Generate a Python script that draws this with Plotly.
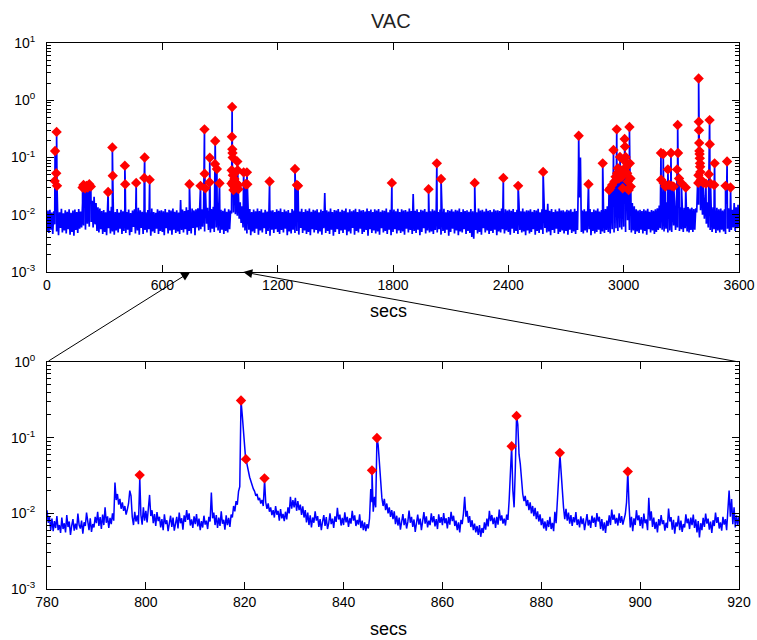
import numpy as np
import plotly.graph_objects as go

# ---------------- data ----------------
top_step_secs = 5
# VAC full-hour trace, sampled every 5 s, in units of 1e-3
top_vac_milli = [
    5.2, 11.8, 4.8, 12.2, 5.5, 10.9, 4.6, 11.5, 6.8, 14.0, 5.1, 12.4, 4.4, 11.0, 5.9, 12.7, 4.9, 10.6, 5.3, 12.0,
    4.7, 11.3, 5.6, 12.5, 4.5, 10.8, 5.0, 11.9, 4.3, 12.3, 5.4, 11.1, 4.8, 12.6, 5.7, 11.4, 6.0, 16.0, 6.5, 18.5,
    5.5, 21.0, 7.0, 19.0, 6.2, 24.0, 7.5, 17.5, 6.0, 20.5, 6.8, 16.0, 5.2, 13.5, 4.9, 12.8, 5.6, 11.6, 4.6, 12.1,
    5.0, 11.0, 4.4, 12.4, 5.8, 11.7, 4.7, 13.8, 5.1, 12.0, 4.5, 11.2, 5.3, 12.6, 4.9, 10.9, 5.7, 12.2, 4.6, 11.5,
    5.2, 12.8, 4.8, 11.1, 5.5, 12.3, 4.4, 10.7, 5.0, 11.8, 6.1, 12.5, 4.7, 11.6, 5.3, 13.2, 4.5, 12.0, 5.9, 11.3,
    4.6, 12.7, 5.4, 11.0, 4.9, 12.1, 5.6, 11.4, 4.3, 12.9, 5.1, 11.2, 4.8, 10.8, 5.7, 12.4, 4.6, 11.7, 5.2, 12.0,
    5.0, 11.5, 4.4, 12.6, 5.8, 11.0, 4.7, 12.2, 5.3, 11.8, 4.5, 12.9, 5.5, 11.3, 4.8, 12.0, 5.1, 10.9, 4.6, 18.0,
    5.4, 12.3, 4.9, 11.6, 5.6, 13.5, 4.5, 12.1, 5.2, 11.4, 4.7, 12.8, 5.9, 11.9, 4.4, 12.5, 6.0, 13.0, 5.3, 15.0,
    5.6, 12.4, 6.2, 14.0, 5.1, 18.0, 7.0, 13.2, 5.4, 12.0, 4.9, 12.6, 5.7, 13.8, 5.0, 14.5, 6.0, 17.0, 5.3, 12.8,
    4.8, 12.2, 5.5, 11.7, 4.6, 12.9, 5.2, 11.3, 4.9, 12.5, 5.6, 11.8, 10.5, 30.0, 11.0, 26.0, 10.2, 22.0, 9.6, 19.0,
    8.5, 16.5, 7.2, 14.0, 6.0, 13.5, 5.3, 12.4, 4.7, 11.9, 5.5, 12.6, 4.4, 11.2, 5.1, 12.3, 4.8, 11.5, 5.7, 12.8,
    4.5, 11.6, 5.3, 12.5, 4.9, 10.9, 5.8, 12.2, 4.6, 11.4, 5.2, 12.7, 4.3, 11.8, 5.5, 12.0, 4.8, 11.1, 5.6, 12.4,
    5.0, 11.7, 4.6, 12.8, 5.4, 11.2, 4.9, 12.3, 5.7, 11.5, 4.4, 12.1, 5.1, 10.8, 4.7, 12.6, 5.5, 11.9, 4.8, 13.5,
    5.2, 12.0, 4.5, 11.4, 5.9, 12.7, 4.8, 11.1, 5.3, 12.4, 4.6, 11.7, 5.0, 12.9, 4.4, 11.3, 5.6, 12.2, 4.9, 11.8,
    5.4, 12.5, 4.7, 11.0, 5.1, 12.3, 4.5, 11.6, 5.8, 24.0, 4.8, 12.0, 5.2, 11.4, 4.6, 12.8, 5.5, 11.2, 4.3, 12.1,
    5.0, 11.9, 5.6, 12.6, 4.6, 11.3, 5.3, 12.2, 4.8, 11.7, 5.5, 12.9, 4.4, 11.0, 5.1, 12.4, 4.7, 11.5, 5.9, 12.0,
    4.5, 12.7, 5.2, 11.1, 4.9, 12.5, 5.7, 11.8, 4.6, 12.1, 5.0, 11.4, 5.4, 12.8, 4.3, 11.6, 5.6, 12.3, 4.8, 11.2,
    5.3, 12.4, 4.7, 11.9, 5.1, 12.6, 4.5, 11.3, 5.8, 12.0, 4.9, 11.7, 5.2, 12.9, 4.6, 11.0, 5.5, 12.2, 4.4, 11.8,
    5.0, 12.3, 5.6, 11.5, 4.7, 12.7, 5.3, 11.2, 4.8, 12.4, 5.1, 11.9, 4.5, 12.1, 5.7, 11.4, 4.9, 12.8, 5.4, 11.6,
    4.6, 23.0, 5.2, 11.7, 4.8, 12.5, 5.5, 11.1, 4.4, 12.2, 5.0, 11.8, 5.8, 12.6, 4.7, 11.3, 5.3, 12.0, 4.9, 11.5,
    5.1, 12.4, 4.6, 11.9, 5.4, 12.8, 4.9, 11.2, 5.6, 12.3, 4.5, 11.6, 5.2, 12.7, 4.8, 11.0, 5.5, 12.1, 4.3, 11.7,
    5.0, 12.5, 5.7, 11.4, 4.7, 12.2, 5.3, 11.8, 4.4, 12.9, 5.1, 11.1, 4.9, 12.4, 5.6, 11.6, 4.6, 12.0, 5.2, 11.3,
    4.8, 12.6, 4.1, 11.5, 3.8, 12.3, 5.4, 11.0, 4.7, 12.8, 5.0, 11.9, 4.5, 12.2, 5.8, 11.4, 4.9, 12.7, 5.3, 11.7,
    4.6, 12.1, 5.2, 11.3, 4.8, 12.5, 5.5, 11.8, 4.4, 12.0, 5.1, 11.6, 4.9, 12.9, 5.6, 11.2, 4.7, 12.4, 5.3, 11.9,
    5.0, 12.3, 4.5, 11.7, 5.7, 12.6, 4.8, 11.1, 5.2, 12.2, 4.6, 16.5, 5.4, 11.5, 4.9, 12.8, 5.1, 11.4, 4.4, 12.0,
    5.3, 11.8, 4.7, 12.5, 5.0, 11.3, 5.6, 12.1, 4.5, 11.9, 5.2, 12.7, 4.8, 11.0, 5.5, 12.4, 4.6, 11.6, 5.9, 12.2,
    4.9, 15.5, 5.1, 11.7, 4.4, 12.6, 5.4, 11.2, 4.8, 12.3, 5.7, 11.5, 4.6, 12.9, 5.0, 11.8, 5.3, 12.0, 4.7, 11.4,
    5.2, 12.2, 4.5, 11.9, 5.5, 12.5, 4.8, 11.3, 5.1, 12.7, 4.6, 11.6, 5.4, 60.0, 20.0, 100.0, 5.0, 11.8, 4.7, 12.4,
    5.3, 11.5, 4.9, 12.0, 5.6, 12.6, 4.4, 11.2, 5.2, 12.3, 4.7, 11.8, 5.0, 12.9, 5.5, 11.4, 4.6, 12.1, 5.1, 13.0,
    4.8, 12.6, 5.4, 14.0, 5.0, 13.5, 4.7, 18.0, 5.6, 20.0, 4.9, 17.0, 5.8, 22.0, 5.2, 19.0, 6.0, 24.0, 5.5, 21.0,
    6.2, 26.0, 5.0, 28.0, 8.0, 25.0, 5.4, 20.0, 4.9, 16.0, 5.3, 14.0, 4.6, 12.5, 5.1, 11.8, 4.8, 12.2, 5.5, 11.6,
    4.7, 12.4, 5.2, 11.9, 4.5, 12.7, 5.6, 11.3, 4.9, 12.1, 5.3, 11.7, 4.6, 12.5, 5.0, 13.0, 5.4, 14.5, 5.8, 16.0,
    5.5, 15.0, 5.1, 14.0, 5.7, 16.5, 4.9, 13.8, 5.3, 15.5, 5.0, 14.2, 6.5, 17.0, 5.4, 15.0, 6.0, 14.5, 5.2, 13.5,
    5.6, 14.8, 5.0, 13.2, 5.8, 15.0, 5.1, 13.6, 4.9, 12.8, 5.4, 13.3, 5.0, 12.6, 5.5, 13.0, 11.0, 40.0, 15.0, 35.0,
    12.0, 28.0, 10.0, 22.0, 8.5, 18.0, 7.0, 16.5, 6.0, 15.0, 5.4, 14.0, 5.0, 13.5, 5.6, 12.8, 4.8, 13.2, 5.3, 12.5,
    4.9, 12.9, 5.5, 11.8, 5.1, 12.4, 4.6, 15.5, 5.7, 13.0, 5.0, 14.5, 5.4, 12.2, 6.0, 16.0, 5.2, 13.5, 5.8, 15.0,
    6.0,
]

# detected peaks on the full trace (secs, VAC)
top_peak_secs = [
    40, 42, 48, 50, 52,
    185, 190, 198, 205, 212, 220, 228,
    318, 340, 342, 405, 407, 464, 506, 508, 534, 741,
    960, 961, 962, 963, 964, 965, 966, 967, 968, 969, 970, 972, 975, 978, 985, 990, 992, 994, 996,
    1023, 1033, 1040, 1042, 1158, 1290, 1300, 1306,
    1794, 1985, 2028, 2050, 2225, 2374, 2451, 2581, 2766, 2817, 2891,
    2924, 2930, 2940, 2947, 2952, 2958, 2964, 2966, 2970, 2975, 2981, 2985, 2990, 2995,
    3000, 3005, 3007, 3010, 3014, 3018, 3022, 3026, 3030, 3032, 3035, 3037,
    3194, 3195, 3206, 3208, 3217, 3230, 3236, 3246, 3250, 3260, 3278, 3281, 3283, 3288, 3300, 3323,
    3388, 3389, 3390, 3391, 3392, 3393, 3394, 3395, 3396, 3397, 3398, 3399, 3400, 3405, 3414, 3428,
    3443, 3447, 3448, 3452, 3471, 3473, 3530, 3538, 3556,
]
top_peak_vac = [
    0.039, 0.13, 0.053, 0.28, 0.032,
    0.030, 0.033, 0.029, 0.032, 0.030, 0.034, 0.031,
    0.025, 0.15, 0.048, 0.072, 0.034, 0.036, 0.044, 0.10, 0.041, 0.034,
    0.035, 0.06, 0.23, 0.76, 0.14, 0.12, 0.10, 0.049, 0.038, 0.032, 0.027, 0.055, 0.042, 0.030, 0.036, 0.085, 0.060, 0.033, 0.028,
    0.055, 0.034, 0.055, 0.034, 0.038, 0.063, 0.033, 0.032,
    0.036, 0.028, 0.079, 0.042, 0.036, 0.044, 0.032, 0.056, 0.24, 0.034, 0.079,
    0.027, 0.029, 0.033, 0.135, 0.038, 0.046, 0.31, 0.053, 0.065, 0.043, 0.102, 0.060, 0.046, 0.029,
    0.090, 0.21, 0.155, 0.102, 0.069, 0.053, 0.038, 0.027, 0.34, 0.079, 0.043, 0.031,
    0.12, 0.041, 0.115, 0.036, 0.031, 0.062, 0.033, 0.12, 0.032, 0.031, 0.062, 0.37, 0.12, 0.043, 0.036, 0.030,
    0.036, 0.049, 2.4, 0.42, 0.30, 0.18, 0.13, 0.115, 0.097, 0.079, 0.069, 0.056, 0.040, 0.040, 0.036, 0.035,
    0.051, 0.45, 0.17, 0.035, 0.033, 0.079, 0.032, 0.085, 0.030,
]

# zoomed window 780-920 s, sampled every 0.25 s, in units of 1e-3
zoom_start_secs = 780
zoom_step_secs = 0.25
zoom_vac_milli = [
    11.0, 7.5, 9.0, 6.0, 8.5, 5.8, 7.9, 6.4, 9.2, 6.0, 7.0, 5.5, 8.8, 6.2, 7.4, 5.6, 9.5, 6.6, 7.8, 5.2,
    6.9, 8.4, 5.9, 7.3, 6.1, 9.9, 7.0, 6.3, 8.0, 5.4, 7.6, 6.8, 10.2, 7.1, 6.0, 8.6, 5.7, 7.2, 6.5, 9.0,
    7.4, 10.5, 6.8, 8.9, 6.2, 9.6, 7.0, 12.0, 7.5, 9.1, 6.4, 8.7, 7.2, 10.0, 8.0, 25.5, 15.0, 18.0, 13.0, 15.5,
    11.5, 14.0, 10.8, 12.5, 9.6, 11.2, 13.5, 20.0, 17.0, 9.0, 7.0, 10.5, 7.8, 9.4, 7.2, 26.0, 9.5, 7.1, 12.0, 8.0,
    10.8, 7.6, 11.5, 17.5, 9.2, 11.0, 7.4, 9.8, 6.8, 10.4, 7.9, 9.0, 6.5, 8.4, 6.0, 9.7, 7.2, 8.1, 5.8, 7.6,
    9.3, 6.6, 8.8, 5.9, 7.0, 9.0, 6.3, 10.2, 7.4, 8.6, 6.1, 9.4, 7.7, 11.0, 8.2, 10.0, 6.9, 8.3, 6.4, 9.1,
    7.2, 9.8, 6.7, 8.5, 6.0, 7.9, 6.5, 9.3, 7.1, 8.0, 6.2, 9.0, 7.8, 18.8, 8.6, 10.2, 7.0, 9.5, 6.4, 8.8,
    6.8, 10.6, 7.3, 8.2, 6.1, 9.4, 7.0, 8.7, 6.6, 9.6, 8.8, 12.5, 10.6, 14.5, 13.0, 19.5, 22.5, 280.0, 200.0, 110.0,
    60.0, 46.0, 40.0, 36.0, 30.0, 26.0, 24.0, 21.0, 19.5, 17.0, 18.0, 15.0, 16.0, 13.5, 15.0, 12.5, 26.0, 14.0, 11.5, 13.5,
    10.5, 12.0, 9.5, 11.0, 8.8, 12.5, 9.6, 10.8, 8.0, 11.4, 8.6, 9.8, 7.9, 10.5, 8.3, 12.0, 10.0, 16.5, 11.5, 15.0,
    12.0, 16.0, 10.8, 14.5, 11.0, 13.0, 9.5, 12.4, 8.8, 11.0, 7.6, 10.2, 7.0, 9.4, 6.5, 8.8, 7.5, 10.6, 8.0, 9.2,
    6.6, 8.4, 6.0, 7.8, 9.5, 6.8, 8.9, 6.2, 7.4, 10.0, 7.2, 8.5, 6.4, 9.1, 7.7, 11.8, 8.3, 9.6, 6.9, 8.7,
    7.0, 10.3, 7.6, 9.0, 6.6, 8.6, 7.3, 10.8, 8.0, 9.4, 6.8, 8.2, 7.1, 9.7, 6.4, 8.0, 6.0, 7.6, 5.8, 7.2,
    6.3, 8.5, 21.0, 14.0, 10.5, 16.5, 12.0, 85.0, 80.0, 45.0, 22.0, 16.0, 12.5, 15.5, 11.0, 13.5, 10.0, 12.0, 9.0, 11.0,
    8.4, 10.6, 7.2, 9.3, 6.9, 8.8, 6.1, 7.9, 9.8, 7.0, 8.6, 6.3, 7.7, 10.9, 7.5, 9.0, 6.6, 8.3, 5.7, 7.4,
    9.6, 7.1, 8.5, 6.0, 7.8, 10.4, 7.3, 9.1, 6.5, 8.0, 7.0, 10.0, 7.6, 9.2, 6.7, 8.4, 6.2, 9.7, 7.5, 8.9,
    7.0, 10.1, 7.4, 8.6, 6.3, 8.9, 7.1, 10.5, 7.9, 9.3, 6.8, 8.0, 6.0, 7.6, 5.6, 8.2, 7.2, 9.9, 16.6, 9.0,
    10.8, 7.5, 9.2, 6.6, 8.1, 6.0, 7.3, 5.6, 6.8, 5.2, 7.0, 4.9, 6.4, 5.5, 7.6, 6.1, 8.5, 6.7, 10.8, 7.9,
    9.5, 7.2, 8.8, 6.4, 9.0, 7.1, 11.2, 8.0, 9.4, 7.3, 8.5, 6.9, 9.6, 8.2, 15.0, 29.0, 60.0, 20.0, 12.0, 40.0,
    170.0, 150.0, 60.0, 45.0, 25.0, 18.0, 14.5, 17.0, 12.5, 15.0, 11.0, 14.0, 10.0, 12.5, 9.2, 11.8, 8.4, 10.6, 7.8, 9.7,
    7.0, 8.6, 6.3, 7.8, 5.9, 8.1, 6.6, 9.0, 6.2, 7.5, 5.8, 10.5, 7.4, 13.0, 30.0, 55.0, 35.0, 18.0, 12.0, 8.4,
    11.5, 8.0, 10.2, 7.3, 9.5, 6.8, 8.9, 7.6, 10.4, 7.0, 8.3, 6.5, 9.1, 7.2, 8.6, 6.0, 7.9, 9.8, 6.9, 8.2,
    6.4, 9.3, 7.5, 8.8, 6.6, 10.1, 7.8, 9.0, 6.2, 8.4, 5.9, 7.6, 5.5, 8.0, 6.8, 9.4, 7.0, 11.2, 8.2, 9.6,
    7.3, 8.7, 6.9, 10.0, 7.5, 9.2, 7.1, 8.5, 9.8, 14.0, 30.0, 13.0, 6.5, 9.0, 5.8, 8.6, 7.0, 11.0, 8.1, 9.4,
    6.8, 8.9, 6.3, 9.9, 7.4, 8.3, 6.0, 16.0, 8.0, 10.6, 6.6, 8.8, 6.2, 7.7, 5.6, 8.4, 6.9, 9.5, 7.2, 8.1,
    5.9, 7.5, 6.4, 11.6, 7.8, 8.9, 6.1, 8.2, 5.4, 7.6, 6.7, 9.3, 6.0, 8.0, 5.7, 7.2, 6.5, 9.7, 7.4, 8.5,
    6.2, 8.8, 7.0, 9.6, 6.4, 8.3, 5.6, 7.9, 4.8, 7.4, 6.0, 8.7, 6.6, 9.9, 7.3, 8.5, 6.1, 7.8, 5.5, 8.1,
    6.8, 10.2, 7.5, 8.9, 6.3, 7.6, 5.9, 9.0, 7.1, 8.4, 6.0, 11.0, 20.0, 9.0, 15.5, 7.2, 12.0, 6.5, 9.4, 7.0,
    9.0,
]
zoom_peak_secs = [798.75, 819.25, 820.25, 824.0, 845.75, 846.75, 874.0, 875.0, 883.75, 897.5]
zoom_peak_vac = [0.032, 0.31, 0.052, 0.029, 0.037, 0.099, 0.077, 0.194, 0.063, 0.0356]

top_xticks = [0, 600, 1200, 1800, 2400, 3000, 3600]
zoom_xticks = [780, 800, 820, 840, 860, 880, 900, 920]
top_ydecades = [-3, -2, -1, 0, 1]
zoom_ydecades = [-3, -2, -1, 0]

# ---------------- build series ----------------
top_x = np.arange(len(top_vac_milli)) * top_step_secs
top_y = np.array(top_vac_milli) * 1e-3
zoom_x = zoom_start_secs + np.arange(len(zoom_vac_milli)) * zoom_step_secs
zoom_y = np.array(zoom_vac_milli) * 1e-3

all_top_peak_x = np.concatenate([top_peak_secs, zoom_peak_secs])
all_top_peak_y = np.concatenate([top_peak_vac, zoom_peak_vac])


def merge(bx, by, px, py):
    x = np.concatenate([bx, px])
    y = np.concatenate([by, py])
    order = np.argsort(x, kind="stable")
    return x[order], y[order]


tlx, tly = merge(top_x, top_y, all_top_peak_x, all_top_peak_y)
zlx, zly = merge(zoom_x, zoom_y, np.array(zoom_peak_secs), np.array(zoom_peak_vac))

BLUE = "#0000FF"
RED = "#FF0000"
FONT = "Liberation Sans"

fig = go.Figure()
fig.add_trace(go.Scatter(x=tlx, y=tly, mode="lines", line=dict(color=BLUE, width=1.7),
                         xaxis="x", yaxis="y", hoverinfo="skip"))
fig.add_trace(go.Scatter(x=all_top_peak_x, y=all_top_peak_y, mode="markers",
                         marker=dict(symbol="diamond", size=8, color=RED, line=dict(width=0)),
                         xaxis="x", yaxis="y"))
fig.add_trace(go.Scatter(x=zlx, y=zly, mode="lines", line=dict(color=BLUE, width=1.5),
                         xaxis="x2", yaxis="y2", hoverinfo="skip"))
fig.add_trace(go.Scatter(x=zoom_peak_secs, y=zoom_peak_vac, mode="markers",
                         marker=dict(symbol="diamond", size=8, color=RED, line=dict(width=0)),
                         xaxis="x2", yaxis="y2"))


def minor_vals(decades):
    vals = []
    for d in decades[:-1]:
        for m in range(2, 10):
            vals.append(m * 10.0 ** d)
    return vals


def log_ticktext(decades):
    return ["10<sup>%d</sup>" % d for d in decades]


axis_common = dict(showline=True, linecolor="black", linewidth=1, mirror="ticks",
                   ticks="inside", ticklen=7, tickcolor="black", showgrid=False,
                   zeroline=False, ticklabeloverflow="allow",
                   tickfont=dict(family=FONT, size=14, color="black"))

L, R, T, B = 47, 18, 43, 51
H = 640 - T - B
top_dom = [(589 - 272) / H, 1.0]
bot_dom = [0.0, (589 - 362) / H]

fig.update_layout(
    width=757, height=640,
    margin=dict(l=L, r=R, t=T, b=B, autoexpand=False),
    paper_bgcolor="white", plot_bgcolor="white",
    showlegend=False,
    font=dict(family=FONT, color="black"),
    xaxis=dict(domain=[0, 1], anchor="y", range=[0, 3600], tickmode="array",
               tickvals=top_xticks, ticktext=[str(v) for v in top_xticks], **axis_common),
    yaxis=dict(domain=top_dom, anchor="x", type="log", range=[-3, 1], tickmode="array",
               tickvals=[10.0 ** d for d in top_ydecades], ticktext=log_ticktext(top_ydecades),
               ticklabelstandoff=8,
               minor=dict(ticks="inside", ticklen=4, tickcolor="black", tickmode="array",
                          tickvals=minor_vals(top_ydecades), showgrid=False),
               **axis_common),
    xaxis2=dict(domain=[0, 1], anchor="y2", range=[780, 920], tickmode="array",
                tickvals=zoom_xticks, ticktext=[str(v) for v in zoom_xticks], **axis_common),
    yaxis2=dict(domain=bot_dom, anchor="x2", type="log", range=[-3, 0], tickmode="array",
                tickvals=[10.0 ** d for d in zoom_ydecades], ticktext=log_ticktext(zoom_ydecades),
                ticklabelstandoff=8,
                minor=dict(ticks="inside", ticklen=4, tickcolor="black", tickmode="array",
                           tickvals=minor_vals(zoom_ydecades), showgrid=False),
                **axis_common),
)

# titles as annotations placed in paper space
fig.add_annotation(text="VAC", xref="paper", yref="paper", x=0.497, y=(589 - 21) / H,
                   showarrow=False, font=dict(family=FONT, size=20, color="#222222"),
                   xanchor="center", yanchor="middle")
fig.add_annotation(text="secs", xref="paper", yref="paper", x=0.493, y=(589 - 311) / H,
                   showarrow=False, font=dict(family=FONT, size=18, color="black"),
                   xanchor="center", yanchor="middle")
fig.add_annotation(text="secs", xref="paper", yref="paper", x=0.493, y=(589 - 629) / H,
                   showarrow=False, font=dict(family=FONT, size=18, color="black"),
                   xanchor="center", yanchor="middle")

# zoom indicator arrows (from corners of lower axes to the top axis)
tail_log = 1 - (362 - 43) / 57.25
for tip_x, tail_x in [(745, 0), (1021, 3600)]:
    fig.add_annotation(x=tip_x, y=-3.0, xref="x", yref="y", ax=tail_x, ay=tail_log,
                       axref="x", ayref="y", showarrow=True, arrowhead=2, arrowsize=1.8,
                       arrowwidth=1, arrowcolor="black", text="", standoff=0)

fig.write_html("out.html", config={"displayModeBar": False},
               post_script="document.body.style.margin='0px';")
